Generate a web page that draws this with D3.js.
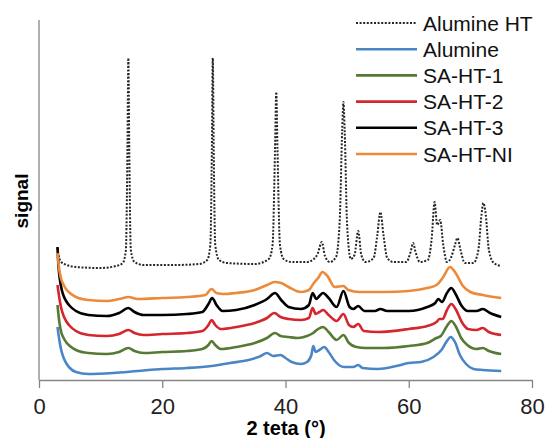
<!DOCTYPE html>
<html>
<head>
<meta charset="utf-8">
<script src="https://cdn.jsdelivr.net/npm/d3@7"></script>
<style>
  body { margin: 0; background: #fff; }
  svg { display: block; font-family: 'Liberation Sans', Arial, sans-serif; }
</style>
</head>
<body>
<div id="chart"></div>
<script>
// series names, legend order
const seriesNames = ['Alumine HT', 'Alumine', 'SA-HT-1', 'SA-HT-2', 'SA-HT-3', 'SA-HT-NI']
const xTicks = [0, 20, 40, 60, 80]

// [2 theta, signal]
const alumineHT = [
  [3, 132], [3.2, 124], [3.6, 118], [4.5, 115], [6, 113], [10, 112], [12.5, 114],
  [13.6, 117], [14.1, 130], [14.35, 230], [14.5, 322], [14.65, 230], [14.9, 130], [15.5, 118],
  [17, 115], [22, 115], [26, 116], [27.3, 120], [27.8, 135], [28.05, 230], [28.2, 322],
  [28.35, 230], [28.6, 135], [29.2, 120], [30.5, 117], [35, 116], [37.3, 121], [37.9, 135],
  [38.3, 230], [38.5, 288], [38.7, 230], [39.1, 135], [39.7, 121], [41, 118], [43.5, 118],
  [44.6, 121], [45.2, 126], [45.9, 138], [46.4, 124], [47.2, 118], [48.2, 123], [48.8, 160],
  [49.2, 250], [49.4, 278], [49.6, 250], [50, 155], [50.6, 121], [51.2, 125], [51.8, 149],
  [52.3, 125], [53, 118], [54.3, 122], [54.9, 145], [55.4, 168], [55.9, 145], [56.5, 122],
  [57.5, 118], [59.6, 118], [60.3, 128], [60.7, 137], [61.1, 128], [61.8, 118], [63.1, 120],
  [63.7, 140], [64.2, 178], [64.6, 155], [65.1, 160], [65.6, 135], [66.2, 118], [66.9, 123],
  [67.5, 135], [67.9, 142], [68.4, 130], [69.1, 117], [70.5, 117], [71.3, 130], [71.8, 165],
  [72.1, 177], [72.5, 165], [73, 130], [73.8, 117], [75, 114],
]
const alumine = [
  [3, 53], [3.3, 40], [3.6, 30], [4, 22], [4.5, 16], [5, 12], [6, 8], [8, 6], [12, 7],
  [16, 9], [20, 11], [24, 12], [28, 14], [31, 17], [34, 20], [36, 24], [37, 27], [38, 24],
  [39.2, 25], [40, 22], [41, 18], [42.5, 16], [43.5, 18], [44.2, 25], [44.5, 34], [44.9, 28],
  [45.5, 30], [46.3, 33], [47, 28], [48, 19], [49.5, 13], [51, 13], [51.8, 15], [52.5, 12],
  [55, 11], [58, 14], [60, 17], [62, 18], [64, 23], [65.3, 30], [66.2, 39], [66.8, 43],
  [67.5, 38], [68.3, 25], [69.3, 16], [70.5, 11], [72, 10], [75, 9],
]
const saHT1 = [
  [3, 75], [3.3, 58], [3.6, 48], [4, 42], [4.5, 37], [5, 34], [6, 30], [8, 27], [11, 26],
  [13, 28], [14.5, 32], [15.5, 29], [17, 27], [20, 28], [24, 29], [26.5, 31], [27.5, 35],
  [28, 39], [28.6, 35], [29.5, 31], [32, 33], [35, 37], [37, 42], [38.3, 47], [39.2, 44],
  [40.5, 43], [42, 42], [43.5, 44], [44.5, 47], [45.3, 51], [46.1, 53], [47, 48], [48.3, 40],
  [49.4, 45], [50.3, 37], [51.5, 33], [53, 32], [56, 32], [60, 34], [63, 37], [64.5, 42],
  [65.2, 44], [66.2, 54], [66.9, 59], [67.6, 54], [68.5, 42], [69.5, 35], [71, 31], [72, 32],
  [73, 29], [75, 26],
]
const saHT2 = [
  [3, 95], [3.3, 82], [3.6, 72], [4, 64], [4.5, 58], [5, 54], [6, 49], [8, 45], [11, 44],
  [13, 46], [14.5, 50], [15.5, 47], [17, 45], [20, 46], [24, 47], [26.5, 49], [27.5, 55],
  [28, 60], [28.6, 55], [29.5, 51], [32, 53], [35, 57], [37, 62], [38.2, 67], [39.2, 63],
  [40.5, 61], [42.5, 60], [43.8, 62], [44.4, 72], [44.9, 66], [45.5, 68], [46.1, 70], [47, 65],
  [48.3, 59], [49.4, 66], [50.3, 55], [51, 53], [51.8, 56], [52.7, 49], [55, 48], [60, 51],
  [63, 54], [64.5, 58], [65, 61], [65.5, 61], [66.2, 70], [66.9, 76], [67.6, 71], [68.6, 58],
  [69.6, 51], [71, 50], [72, 52], [73, 48], [75, 45],
]
const saHT3 = [
  [3, 133], [3.15, 115], [3.4, 100], [3.7, 90], [4, 84], [4.5, 78], [5, 74], [6, 69], [8, 65],
  [11, 64], [13, 67], [14.5, 72], [15.5, 68], [17, 65], [20, 65], [24, 66], [26.5, 68],
  [27.5, 76], [28.1, 82], [28.8, 75], [29.8, 69], [32, 70], [35, 75], [37, 81], [38.3, 87],
  [39.3, 80], [40.5, 73], [42.5, 71], [43.8, 75], [44.4, 87], [45, 81], [45.5, 84], [46.1, 87],
  [47, 82], [48.3, 73], [49.4, 89], [50.4, 73], [51, 71], [51.8, 74], [52.8, 69], [54.5, 69],
  [55.4, 71], [56.5, 69], [60, 69], [63, 73], [64.3, 77], [64.8, 81], [65.4, 78], [66.2, 87],
  [66.9, 92], [67.6, 86], [68.6, 74], [69.6, 69], [71, 69], [72, 71], [73.2, 67], [75, 63],
]
const saHTNI = [
  [3, 127], [3.3, 110], [3.6, 101], [4, 95], [4.5, 90], [5, 87], [6, 83], [8, 80], [11, 79],
  [13, 81], [14.5, 83], [16, 81], [20, 82], [24, 83], [27, 85], [28, 91], [28.8, 87], [30, 86],
  [32, 87], [35, 90], [37, 95], [38.2, 98], [39.3, 97], [40.5, 93], [42.5, 88], [43.8, 90],
  [44.6, 97], [45.3, 102], [46, 108], [46.8, 104], [48, 93], [49.4, 94], [50.2, 90], [52, 88],
  [56, 88], [60, 89], [63, 92], [64.5, 95], [65.6, 103], [66.7, 113], [67.6, 107], [68.8, 94],
  [70, 88], [72, 85], [75, 82],
]

const seriesData = [alumineHT, alumine, saHT1, saHT2, saHT3, saHTNI]
const seriesColors = ['#262626', '#4a86c6', '#567a33', '#d6262d', '#000000', '#ec8a3a']

const width = 548
const height = 438
const margin = { top: 20, right: 16, bottom: 58, left: 39 }

const svg = d3.select('#chart')
  .append('svg')
  .attr('width', width)
  .attr('height', height)

const x = d3.scaleLinear().domain([0, 80]).range([margin.left, width - margin.right - 0])
const y = d3.scaleLinear().domain([0, 360]).range([height - margin.bottom, margin.top])

// axes
const xAxis = svg.append('g')
  .attr('transform', `translate(0,${y(0)})`)
  .call(d3.axisBottom(x).tickValues(xTicks).tickSize(8).tickPadding(10).tickSizeOuter(0))
xAxis.select('.domain').attr('stroke', '#868686').attr('stroke-width', 1.3)
xAxis.selectAll('.tick line').attr('stroke', '#868686').attr('stroke-width', 1.3)
xAxis.selectAll('.tick text')
  .attr('fill', '#222')
  .style('font-size', '22px')

svg.append('line')
  .attr('x1', x(0)).attr('x2', x(0))
  .attr('y1', y(0)).attr('y2', y(360))
  .attr('stroke', '#868686')
  .attr('stroke-width', 1.3)

// axis titles
svg.append('text')
  .attr('x', 286)
  .attr('y', 435)
  .attr('text-anchor', 'middle')
  .style('font-size', '20px')
  .style('font-weight', 'bold')
  .text('2 teta (°)')

svg.append('text')
  .attr('transform', 'translate(28,201) rotate(-90)')
  .attr('text-anchor', 'middle')
  .style('font-size', '19px')
  .style('font-weight', 'bold')
  .text('signal')

// lines
const line = d3.line()
  .x(d => x(d[0]))
  .y(d => y(d[1]))
  .curve(d3.curveMonotoneX)

seriesData.forEach((data, i) => {
  svg.append('path')
    .datum(data)
    .attr('fill', 'none')
    .attr('stroke', seriesColors[i])
    .attr('stroke-width', i === 0 ? 2 : 2.6)
    .attr('stroke-dasharray', i === 0 ? '2,1.6' : null)
    .attr('stroke-linejoin', 'round')
    .attr('d', line)
})

// legend
const legend = svg.append('g').attr('transform', 'translate(356,23)')
seriesNames.forEach((name, i) => {
  const row = legend.append('g').attr('transform', `translate(0,${i * 26.2})`)
  row.append('line')
    .attr('x1', 0).attr('x2', 61)
    .attr('stroke', seriesColors[i])
    .attr('stroke-width', i === 0 ? 2 : 2.6)
    .attr('stroke-dasharray', i === 0 ? '2,1.6' : null)
  row.append('text')
    .attr('x', 67)
    .attr('dy', '0.36em')
    .style('font-size', '21px')
    .attr('fill', '#111')
    .text(name)
})
</script>
</body>
</html>
